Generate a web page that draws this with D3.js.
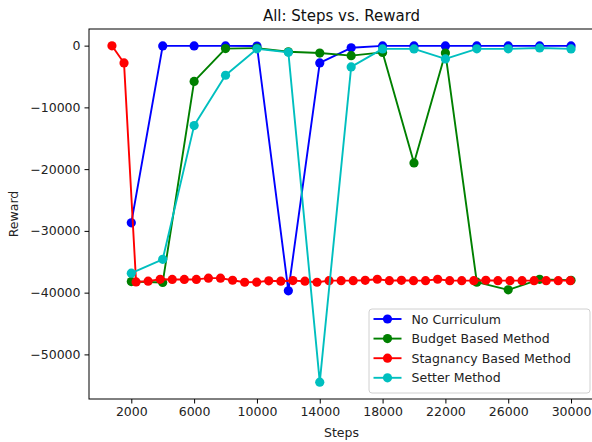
<!DOCTYPE html>
<html>
<head>
<meta charset="utf-8">
<script src="https://cdn.jsdelivr.net/npm/d3@7/dist/d3.min.js"></script>
<style>
  html, body { margin: 0; padding: 0; background: #fff; overflow: hidden; }
  svg { display: block; font-family: "DejaVu Sans", sans-serif; }
</style>
</head>
<body>
<svg id="chart" width="592" height="442"></svg>
<script>
// Evaluation steps for the curriculum runs (every 2000 steps)
const evalSteps = [2000, 4000, 6000, 8000, 10000, 12000, 14000, 16000, 18000, 20000, 22000, 24000, 26000, 28000, 30000];

// Stagnancy-based runs are evaluated every 768 steps
const stagnancySteps = [
  768, 1536, 2304, 3072, 3840, 4608, 5376, 6144, 6912, 7680,
  8448, 9216, 9984, 10752, 11520, 12288, 13056, 13824, 14592, 15360,
  16128, 16896, 17664, 18432, 19200, 19968, 20736, 21504, 22272, 23040,
  23808, 24576, 25344, 26112, 26880, 27648, 28416, 29184, 29952
];

const noCurriculum = [-28700, -40, -40, -40, -60, -39700, -2800, -350, -40, -40, -40, -40, -40, -40, -40];
const budgetBased = [-38200, -38350, -5800, -480, -400, -1000, -1200, -1620, -1100, -19000, -1200, -38300, -39550, -37850, -38000];
const setterMethod = [-36850, -34600, -12950, -4800, -520, -1080, -54500, -3450, -530, -530, -2150, -520, -520, -380, -530];
const stagnancyBased = [
  -30, -2800, -38270, -38140, -37840, -37860, -37860, -37860, -37650, -37650,
  -37990, -38320, -38300, -38080, -38150, -38050, -38150, -38320, -38060, -38060,
  -38060, -38000, -37830, -38060, -38000, -38060, -38060, -37830, -38060, -38060,
  -38060, -37990, -38060, -38060, -38060, -38060, -38060, -38060, -38060
];

const xTicks = [2000, 6000, 10000, 14000, 18000, 22000, 26000, 30000];
const yTicks = [0, -10000, -20000, -30000, -40000, -50000];

const seriesNames = ["No Curriculum", "Budget Based Method", "Stagnancy Based Method", "Setter Method"];
const seriesColors = ["#0000ff", "#008000", "#ff0000", "#00bfbf"];

const series = [
  { name: seriesNames[0], color: seriesColors[0], xs: evalSteps, ys: noCurriculum },
  { name: seriesNames[1], color: seriesColors[1], xs: evalSteps, ys: budgetBased },
  { name: seriesNames[2], color: seriesColors[2], xs: stagnancySteps, ys: stagnancyBased },
  { name: seriesNames[3], color: seriesColors[3], xs: evalSteps, ys: setterMethod }
];

const svg = d3.select("#chart");
const plot = { left: 89, right: 594, top: 29, bottom: 399 };

// Axis limits padded by 5% of the data span on each side
function padded(values) {
  const [lo, hi] = d3.extent(values);
  const m = (hi - lo) * 0.05;
  return [lo - m, hi + m];
}
const allX = series.flatMap(s => s.xs);
const allY = series.flatMap(s => s.ys);

const x = d3.scaleLinear().domain(padded(allX)).range([plot.left, plot.right]);
const y = d3.scaleLinear().domain(padded(allY)).range([plot.bottom, plot.top]);

const fmt = d => (d < 0 ? "\u2212" + Math.abs(d) : String(d));

// X axis
const gx = svg.append("g")
  .attr("transform", `translate(0,${plot.bottom})`)
  .call(d3.axisBottom(x).tickValues(xTicks).tickFormat(fmt).tickSize(4.5).tickPadding(4));
gx.select(".domain").remove();
gx.selectAll("line").attr("stroke", "#000").attr("stroke-width", 1);
gx.selectAll("text").attr("fill", "#222").style("font-size", "12.5px")
  .style("font-family", "'DejaVu Sans', sans-serif");

// Y axis
const gy = svg.append("g")
  .attr("transform", `translate(${plot.left},0)`)
  .call(d3.axisLeft(y).tickValues(yTicks).tickFormat(fmt).tickSize(4.5).tickPadding(4));
gy.select(".domain").remove();
gy.selectAll("line").attr("stroke", "#000").attr("stroke-width", 1);
gy.selectAll("text").attr("fill", "#222").style("font-size", "12.5px")
  .style("font-family", "'DejaVu Sans', sans-serif");

// Plot area clip
svg.append("clipPath").attr("id", "plotClip")
  .append("rect")
  .attr("x", plot.left).attr("y", plot.top)
  .attr("width", plot.right - plot.left).attr("height", plot.bottom - plot.top);

const area = svg.append("g").attr("clip-path", "url(#plotClip)");
const line = d3.line().x(d => x(d[0])).y(d => y(d[1]));

series.forEach(s => {
  const pts = s.xs.map((v, i) => [v, s.ys[i]]);
  const g = area.append("g");
  g.append("path")
    .datum(pts)
    .attr("d", line)
    .attr("fill", "none")
    .attr("stroke", s.color)
    .attr("stroke-width", 1.9)
    .attr("stroke-linejoin", "round");
  g.selectAll("circle")
    .data(pts)
    .join("circle")
    .attr("cx", d => x(d[0]))
    .attr("cy", d => y(d[1]))
    .attr("r", 4.6)
    .attr("fill", s.color);
});

// Frame
svg.append("rect")
  .attr("x", plot.left).attr("y", plot.top)
  .attr("width", plot.right - plot.left).attr("height", plot.bottom - plot.top)
  .attr("fill", "none").attr("stroke", "#000").attr("stroke-width", 1);

// Title and axis labels
const cx = (plot.left + plot.right) / 2;
svg.append("text")
  .attr("x", cx).attr("y", 21)
  .attr("text-anchor", "middle")
  .attr("fill", "#111")
  .style("font-size", "15px")
  .text("All: Steps vs. Reward");

svg.append("text")
  .attr("x", cx).attr("y", 437)
  .attr("text-anchor", "middle")
  .attr("fill", "#222")
  .style("font-size", "12.5px")
  .text("Steps");

svg.append("text")
  .attr("transform", `translate(18,${(plot.top + plot.bottom) / 2}) rotate(-90)`)
  .attr("text-anchor", "middle")
  .attr("fill", "#222")
  .style("font-size", "12.5px")
  .text("Reward");

// Legend
const legend = svg.append("g").attr("transform", "translate(369,309)");
legend.append("rect")
  .attr("width", 221).attr("height", 84)
  .attr("rx", 3).attr("ry", 3)
  .attr("fill", "#fff").attr("fill-opacity", 0.8)
  .attr("stroke", "#d0d0d0").attr("stroke-width", 1);

series.forEach((s, i) => {
  const rowY = 10 + i * 19.6;
  const row = legend.append("g").attr("transform", `translate(0,${rowY})`);
  row.append("line")
    .attr("x1", 4.5).attr("x2", 32.5)
    .attr("stroke", s.color).attr("stroke-width", 1.9);
  row.append("circle")
    .attr("cx", 18.5).attr("r", 4.6).attr("fill", s.color);
  row.append("text")
    .attr("x", 42.5).attr("dy", "0.36em")
    .attr("fill", "#222")
    .style("font-size", "12.5px")
    .text(s.name);
});
</script>
</body>
</html>
